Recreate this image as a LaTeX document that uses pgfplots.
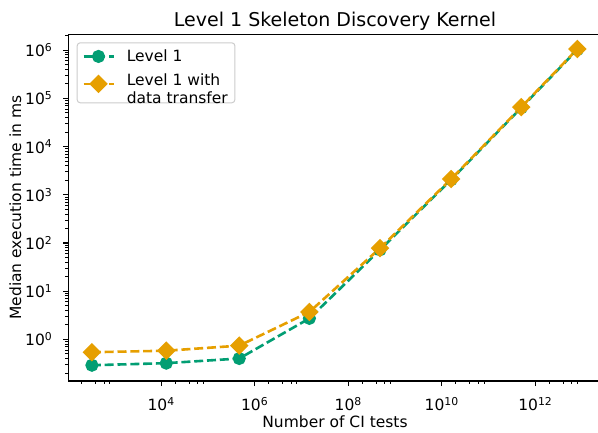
\documentclass[border=0pt]{standalone}
\usepackage{fontspec}
\setmainfont{DejaVu Sans}
\usepackage{pgfplots}
\pgfplotsset{compat=1.18}
\definecolor{cgreen}{HTML}{029E73}
\definecolor{corange}{HTML}{E69F00}
\newcommand{\lbl}{\fontsize{15.5}{18.6}\selectfont}
\begin{document}
\begin{tikzpicture}[x=1pt,y=1pt]
\useasboundingbox (0,0) rectangle (598,432);
\begin{axis}[
  at={(68.3pt,51pt)}, anchor=south west,
  scale only axis, width=533.4pt, height=346.7pt,
  xmode=log, ymode=log, log basis x=10, log basis y=10,
  xmin=103.5, xmax=2.63e13, ymin=0.1365, ymax=2.14e6,
  axis line style={line width=1.2pt},
  tick align=outside, xtick pos=left, ytick pos=left,
  major tick length=5.25pt, minor tick length=3pt,
  every tick/.style={black},
  major tick style={line width=1.2pt},
  minor tick style={line width=0.9pt},
  xtick={1e4,1e6,1e8,1e10,1e12},
  xticklabels={10\textsuperscript{4},10\textsuperscript{6},10\textsuperscript{8},10\textsuperscript{10},10\textsuperscript{12}},
  minor xtick={200,400,600,800,2e4,4e4,6e4,8e4,2e6,4e6,6e6,8e6,2e8,4e8,6e8,8e8,2e10,4e10,6e10,8e10,2e12,4e12,6e12,8e12},
  ytick={1,10,100,1000,10000,100000,1000000},
  yticklabels={10\textsuperscript{0},10\textsuperscript{1},10\textsuperscript{2},10\textsuperscript{3},10\textsuperscript{4},10\textsuperscript{5},10\textsuperscript{6}},
  minor ytick={0.2,0.3,0.4,0.5,0.6,0.7,0.8,0.9,2,3,4,5,6,7,8,9,20,30,40,50,60,70,80,90,200,300,400,500,600,700,800,900,2000,3000,4000,5000,6000,7000,8000,9000,2e4,3e4,4e4,5e4,6e4,7e4,8e4,9e4,2e5,3e5,4e5,5e5,6e5,7e5,8e5,9e5,2e6},
  xticklabel style={font=\lbl, anchor=base, yshift=-24pt},
  yticklabel style={font=\lbl, anchor=east, inner sep=0pt, xshift=-10.5pt},
  title={Level 1 Skeleton Discovery Kernel},
  every axis title shift=0pt,
  title style={font=\fontsize{19}{22.8}\selectfont, at={(axis description cs:0.5,1)}, anchor=base, yshift=7.6pt},
  xlabel={Number of CI tests},
  xlabel style={font=\lbl, at={(axis description cs:0.5,0)}, anchor=base, yshift=-46pt},
  ylabel={Median execution time in ms},
  ylabel style={font=\lbl, at={(axis description cs:0,0.5)}, anchor=base, yshift=47.3pt},
  legend style={at={(axis description cs:0,1)}, anchor=north west, xshift=8.4pt, yshift=-8pt,
    draw=black!20, line width=1pt, rounded corners=3pt, fill=white, font=\lbl,
    inner xsep=5pt, inner ysep=6pt, row sep=7pt,
    nodes={inner ysep=1pt},
    /tikz/every odd column/.style={column sep=10pt}},
  legend cell align=left,
  legend image code/.code={\draw[mark repeat=2,mark phase=2] plot coordinates {(0pt,0pt)(15pt,0pt)(30pt,0pt)};},
]
\addplot[cgreen, line width=2.6pt, dash pattern=on 9pt off 3.8pt, line cap=butt,
  mark=*, mark size=5.25pt, mark options={solid}] coordinates {
  (331,0.29) (12882,0.32) (467735,0.40) (1.479e7,2.72) (4.786e8,72) (1.585e10,2050) (5.01e11,64000) (7.94e12,1.03e6)
};
\addlegendentry{Level 1}
\addplot[corange, line width=2.6pt, dash pattern=on 9pt off 3.8pt, line cap=butt,
  mark=square*, mark size=5.25pt, mark options={solid, rotate=45}] coordinates {
  (331,0.54) (12882,0.58) (467735,0.74) (1.479e7,3.7) (4.786e8,78) (1.585e10,2120) (5.01e11,66000) (7.94e12,1.06e6)
};
\addlegendentry{\begin{tabular}{@{}l@{}}Level 1 with\\data transfer\end{tabular}}
\end{axis}
\end{tikzpicture}
\end{document}
